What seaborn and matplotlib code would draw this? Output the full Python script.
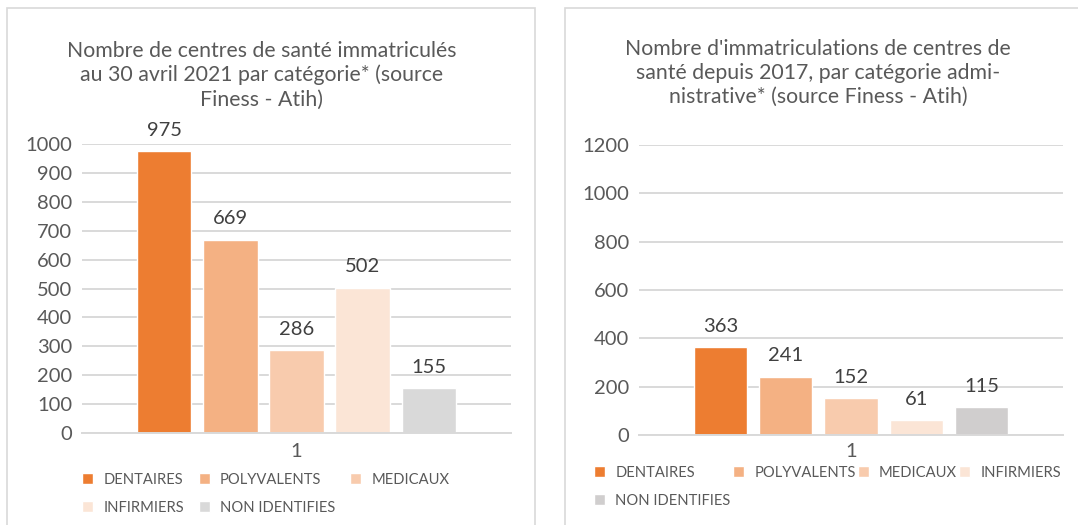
import numpy as np
import pandas as pd
import matplotlib
matplotlib.use('Agg')
import matplotlib.pyplot as plt
from matplotlib.patches import Rectangle
import seaborn as sns

# data
categories = ['DENTAIRES', 'POLYVALENTS', 'MEDICAUX', 'INFIRMIERS', 'NON IDENTIFIES']
groupe = ['1']
total_2021 = [975, 669, 286, 502, 155]
immat_2017 = [363, 241, 152, 61, 115]
title_left = 'Nombre de centres de santé immatriculés\nau 30 avril 2021 par catégorie* (source\nFiness - Atih)'
title_right = "Nombre d'immatriculations de centres de\nsanté depuis 2017, par catégorie admi-\nnistrative* (source Finess - Atih)"

colors_left = ['#ED7D31', '#F4B183', '#F8CBAD', '#FBE5D6', '#D9D9D9']
colors_right = ['#ED7D31', '#F4B183', '#F8CBAD', '#FBE5D6', '#D0CECE']

sns.set_style('white')
plt.rcParams['font.family'] = ['Lato', 'DejaVu Sans']
txt = '#595959'
grid = '#D9D9D9'

fig = plt.figure(figsize=(10.78, 5.25), dpi=100)
W, H = 1078, 525

def fx(px):
    return px / W

def fy(py):
    return 1 - py / H

# panel borders
fig.patches.append(Rectangle((fx(7), fy(540)), fx(528), fy(8) - fy(540), transform=fig.transFigure,
                             fill=False, edgecolor=grid, lw=1.2))
fig.patches.append(Rectangle((fx(565), fy(540)), fx(530), fy(8) - fy(540), transform=fig.transFigure,
                             fill=False, edgecolor=grid, lw=1.2))


def draw(ax, values, colors, ymax, step, title, tpos, legend_order, ncol, leg_pos, colsp, xpad):
    df = pd.DataFrame({'groupe': groupe * len(categories), 'cat': categories, 'val': values})
    sns.barplot(data=df, x='groupe', y='val', hue='cat', hue_order=categories,
                palette=colors, width=0.77, gap=0.18, ax=ax, saturation=1)
    ax.set_ylim(0, ymax)
    ax.set_xlim(-0.5, 0.5)
    ax.set_yticks(np.arange(0, ymax + 1, step))
    ax.yaxis.grid(True, color=grid, lw=1.4)
    ax.set_axisbelow(True)
    for s in ['top', 'right', 'left']:
        ax.spines[s].set_visible(False)
    ax.spines['bottom'].set_color(grid)
    ax.spines['bottom'].set_linewidth(1.4)
    ax.tick_params(axis='both', length=0, labelsize=14.5, colors=txt, pad=7)
    ax.tick_params(axis='x', pad=xpad)
    ax.set_xlabel('')
    ax.set_ylabel('')
    for c in ax.containers:
        ax.bar_label(c, padding=9, fontsize=14.5, color='#404040')
    handles, labels = ax.get_legend_handles_labels()
    ax.get_legend().remove()
    h = [handles[labels.index(k)] for k in legend_order]
    leg = ax.legend(h, legend_order, ncol=ncol, loc='upper left', bbox_to_anchor=leg_pos,
                    bbox_transform=fig.transFigure, frameon=False, fontsize=10.6,
                    handlelength=0.75, handleheight=0.75, handletextpad=0.7,
                    columnspacing=colsp, labelspacing=0.95, borderaxespad=0, borderpad=0)
    for t in leg.get_texts():
        t.set_color(txt)
    fig.text(tpos[0], tpos[1], title, ha='center', va='center', fontsize=15.3, color=txt,
             linespacing=1.25)


ax1 = fig.add_axes([fx(82), fy(433), fx(429), fy(144) - fy(433)])
draw(ax1, total_2021, colors_left, 1000, 100, title_left, (fx(262), fy(75)),
     ['DENTAIRES', 'INFIRMIERS', 'POLYVALENTS', 'NON IDENTIFIES', 'MEDICAUX'], 3,
     (fx(82), fy(473)), 1.0, 7)

ax2 = fig.add_axes([fx(639), fy(435), fx(424), fy(145) - fy(435)])
draw(ax2, immat_2017, colors_right, 1200, 200, title_right, (fx(818), fy(73)),
     ['DENTAIRES', 'NON IDENTIFIES', 'POLYVALENTS', 'MEDICAUX', 'INFIRMIERS'], 4,
     (fx(594), fy(466)), 0.15, 6)

plt.savefig('out.png', dpi=100)
